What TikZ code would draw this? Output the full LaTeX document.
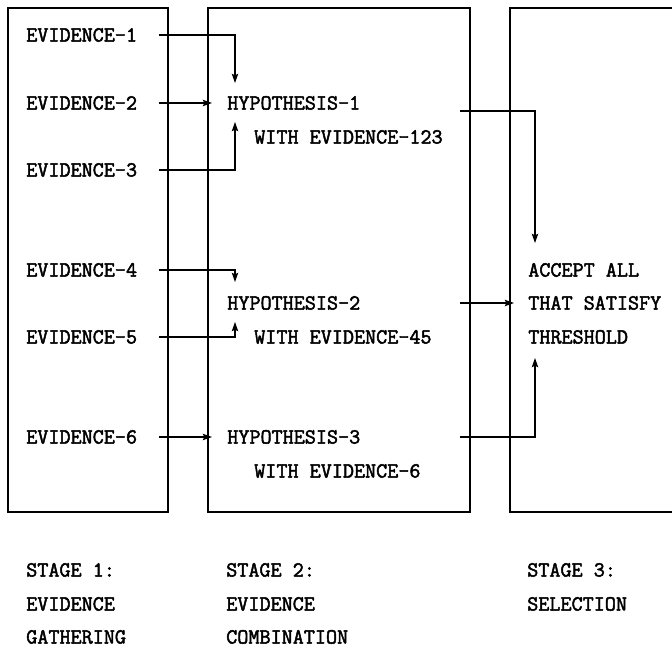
\documentclass[tikz,border=0pt]{standalone}
\usepackage{fontspec}
\setmonofont{Latin Modern Mono}[AutoFakeBold=2.2]
\usepackage{tikz}
\usetikzlibrary{calc,arrows.meta}

\tikzset{
  txt/.style={anchor=west, inner sep=0pt, text height=9.3pt, text depth=0pt,
    font=\ttfamily\bfseries\fontsize{15.3}{18}\selectfont},
  stagebox/.style={line width=1pt},
  link/.style={line width=0.8pt}
}

\begin{document}
\begin{tikzpicture}[>={Stealth[length=6.5pt,width=4.5pt,inset=1pt]}, x=0.025cm, y=-0.025cm]
	\useasboundingbox (0,0) rectangle (672,648);
	% the three stages
	\draw[stagebox] (8,8) rectangle (168,512);
	\draw[stagebox] (208,8) rectangle (470,512);
	\draw[stagebox] (672,8) -- (510,8) -- (510,512) -- (672,512);
	\coordinate (out) at (460,0);
	% stage 1
	\node[txt] (ev1) at (26,35) {EVIDENCE-1};
	\node[txt] (ev2) at (26,103) {EVIDENCE-2};
	\node[txt] (ev3) at (26,170) {EVIDENCE-3};
	\node[txt] (ev4) at (26,270) {EVIDENCE-4};
	\node[txt] (ev5) at (26,337) {EVIDENCE-5};
	\node[txt] (ev6) at (26,437) {EVIDENCE-6};
	% stage 2
	\node[txt] (hyp1) at (227,103) {HYPOTHESIS-1};
	\node[txt] (with1) at (254,137) {WITH EVIDENCE-123};
	\node[txt] (hyp2) at (227,303) {HYPOTHESIS-2};
	\node[txt] (with2) at (254,337) {WITH EVIDENCE-45};
	\node[txt] (hyp3) at (227,437) {HYPOTHESIS-3};
	\node[txt] (with3) at (254,471) {WITH EVIDENCE-6};
	% stage 3
	\node[txt] (acc1) at (528,270) {ACCEPT ALL};
	\node[txt] (acc2) at (528,303) {THAT SATISFY};
	\node[txt] (acc3) at (528,337) {THRESHOLD};
	% captions
	\node[txt] (st1) at (26,570) {STAGE 1:};
	\node[txt] (st1b) at (26,604) {EVIDENCE};
	\node[txt] (st1c) at (26,637) {GATHERING};
	\node[txt] (st2) at (226,570) {STAGE 2:};
	\node[txt] (st2b) at (226,604) {EVIDENCE};
	\node[txt] (st2c) at (226,637) {COMBINATION};
	\node[txt] (st3) at (527,570) {STAGE 3:};
	\node[txt] (st3b) at (527,604) {SELECTION};
	% evidence into hypotheses
	\draw[link,->] ($(ev1.east)+(22,0)$) -| ($(hyp1.west)+(8,-20)$);
	\draw[link,->] ($(ev2.east)+(22,0)$) -- ($(hyp1.west)+(-15,0)$);
	\draw[link,->] ($(ev3.east)+(22,0)$) -| ($(hyp1.west)+(8,19)$);
	\draw[link,->] ($(ev4.east)+(22,0)$) -| ($(hyp2.west)+(8,-21)$);
	\draw[link,->] ($(ev5.east)+(22,0)$) -| ($(hyp2.west)+(8,19)$);
	\draw[link,->] ($(ev6.east)+(22,0)$) -- ($(hyp3.west)+(-15,0)$);
	% hypotheses into selection
	\draw[link,->] ($(out |- hyp1)+(0,8)$) -| ($(acc1.west)+(7,-27)$);
	\draw[link,->] (out |- hyp2) -- ($(acc2.west)+(-14,0)$);
	\draw[link,->] (out |- hyp3) -| ($(acc3.west)+(7,21)$);
\end{tikzpicture}
\end{document}
